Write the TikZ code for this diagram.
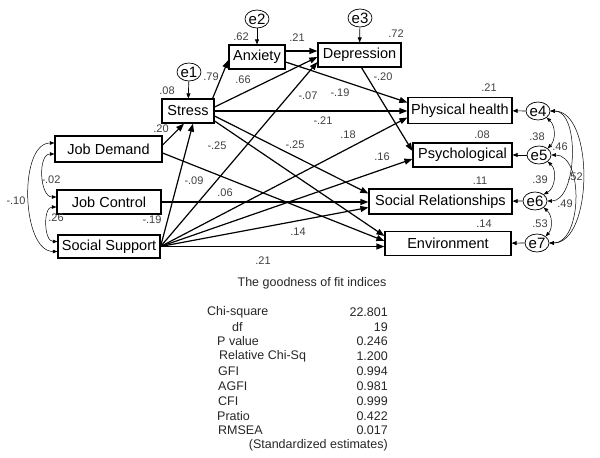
\documentclass[tikz,border=0pt]{standalone}
\usepackage{fontspec}
\setmainfont{Liberation Sans}
\usetikzlibrary{arrows.meta,shapes.geometric}

\begin{document}
\begin{tikzpicture}[x=1pt,y=-1pt,
  obs/.style={rectangle,draw,line width=1.2pt,minimum height=24pt,inner sep=0pt,font=\fontsize{14.5}{16}\selectfont},
  err/.style={ellipse,draw,line width=0.7pt,minimum width=24pt,minimum height=18pt,inner sep=0pt,font=\fontsize{15}{16}\selectfont},
  coef/.style={inner sep=0pt,text=black!75,font=\fontsize{11}{12}\selectfont},
  idx/.style={inner sep=0pt,text=black!85,font=\fontsize{12.5}{14}\selectfont},
  reg/.style={->,>={Triangle[length=8pt,width=6pt]},line width=1.2pt},
  res/.style={->,>={Triangle[length=5pt,width=4pt]},line width=0.7pt},
  cov/.style={<->,>={Triangle[length=4.5pt,width=3.5pt]},line width=0.5pt}]
\useasboundingbox (0,0) rectangle (600,458);

% observed variables
\node (anx) [obs,minimum width=56pt] at (257,57) {Anxiety};
\node (dep) [obs,minimum width=83pt] at (359.5,55) {Depression};
\node (stress) [obs,minimum width=52pt] at (188,111) {Stress};
\node (phys) [obs,minimum width=104pt,minimum height=26pt] at (460,110.5) {Physical health};
\node (psych) [obs,minimum width=99pt] at (462.5,155) {Psychological};
\node (soc) [obs,minimum width=143pt,minimum height=25pt] at (440.5,201.5) {Social Relationships};
\node (env) [obs,minimum width=126pt] at (448,243.5) {Environment};
\node (jd) [obs,minimum width=107pt,minimum height=26pt] at (108.5,149) {Job Demand};
\node (jc) [obs,minimum width=104pt] at (109,202) {Job Control};
\node (ss) [obs,minimum width=102pt,minimum height=23pt] at (109,246.5) {Social Support};

% error terms
\node (e1) [err] at (189,72) {e1};
\node (e2) [err] at (257,19) {e2};
\node (e3) [err] at (360,18) {e3};
\node (e4) [err] at (538,111) {e4};
\node (e5) [err] at (539,155) {e5};
\node (e6) [err] at (535,201) {e6};
\node (e7) [err] at (537,243) {e7};

% regression paths
\draw [reg] ([yshift=4pt]jd.east) -- ([xshift=-4pt]stress.south);
\draw [reg] (ss.east) -- ([xshift=5pt]stress.south);
\draw [reg] ([yshift=-4pt]jd.east) -- ([yshift=2.5pt]env.west);
\draw [reg] (jc.east) -- (jc.east -| soc.west);
\draw [reg] (ss.east) -- ([yshift=-7pt]dep.west);
\draw [reg] (ss.east) -- ([yshift=-7pt]phys.west);
\draw [reg] (ss.east) -- ([yshift=-4pt]psych.west);
\draw [reg] (ss.east) -- ([yshift=-6pt]soc.west);
\draw [reg] (ss.east) -- (ss.east -| env.west);
\draw [reg] ([xshift=-2pt]stress.north east) -- ([yshift=-3pt]anx.west);
\draw [reg] ([yshift=4pt]stress.east) -- ([yshift=-2pt]dep.west);
\draw [reg] (stress.east) -- (stress.east -| phys.west);
\draw [reg] ([yshift=-5pt]stress.east) -- ([yshift=8pt]soc.west);
\draw [reg] ([yshift=-10pt]stress.east) -- ([yshift=7.5pt]env.west);
\draw [reg] ([yshift=6pt]anx.east) -- ([yshift=6pt]anx.east -| dep.west);
\draw [reg] ([yshift=-5pt]anx.east) -- ([yshift=8pt]phys.west);
\draw [reg] ([xshift=2pt]dep.south) -- ([yshift=4pt]psych.west);

% residuals
\draw [res] (e1) -- (stress);
\draw [res] (e2) -- (anx);
\draw [res] (e3) -- (dep);
\draw [res] (e4) -- (phys);
\draw [res] (e5) -- (psych);
\draw [res] (e6) -- (soc);
\draw [res] (e7) -- (env);

% covariances
\draw [cov] ([yshift=-5pt]jd.west) to[out=180,in=180] ([yshift=5pt]jc.west);
\draw [cov] ([yshift=-5pt]jc.west) to[out=180,in=180] ([yshift=5pt]ss.west);
\draw [cov] ([yshift=6pt]jd.west) to[out=180,in=180,looseness=0.85] ([yshift=-5pt]ss.west);
\draw [cov] (e4.south east) to[bend left=45] (e5.north east);
\draw [cov] (e5.south east) to[bend left=55] (e6.north east);
\draw [cov] (e6.south east) to[bend left=45] (e7.north east);
\draw [cov] (e4.east) to[out=0,in=0,looseness=0.85] (e6.east);
\draw [cov] (e5.east) to[out=0,in=0,looseness=0.95] (e7.east);
\draw [cov] (e4.east) to[out=0,in=0,looseness=0.85] (e7.east);

% estimates
\node (k-jd-st) [coef] at (161,129) {.20};
\node (k-ss-st) [coef] at (152,220) {-.19};
\node (k-jd-en) [coef] at (194,181) {-.09};
\node (k-jc-so) [coef] at (225,193) {.06};
\node (k-st-so) [coef] at (217,146) {-.25};
\node (k-st-en) [coef] at (295,145) {-.25};
\node (k-ss-so) [coef] at (298,232) {.14};
\node (k-ss-en) [coef] at (263,261) {.21};
\node (k-st-an) [coef] at (211,77) {.79};
\node (k-st-de) [coef] at (243,80) {.66};
\node (k-an-de) [coef] at (297,38) {.21};
\node (k-ss-de) [coef] at (308,96) {-.07};
\node (k-an-ph) [coef] at (340,93) {-.19};
\node (k-st-ph) [coef] at (323,121) {-.21};
\node (k-ss-ph) [coef] at (348,135) {.18};
\node (k-ss-ps) [coef] at (382,157) {.16};
\node (k-de-ps) [coef] at (383,77) {-.20};
\node (r-stress) [coef] at (167,91) {.08};
\node (r-anx) [coef] at (241,37) {.62};
\node (r-dep) [coef] at (396,34) {.72};
\node (r-phys) [coef] at (489,88) {.21};
\node (r-psych) [coef] at (482,135) {.08};
\node (r-soc) [coef] at (480,181) {.11};
\node (r-env) [coef] at (484,224) {.14};
\node (v-jd-ss) [coef] at (16,201) {-.10};
\node (v-jd-jc) [coef] at (51,180) {-.02};
\node (v-jc-ss) [coef] at (56,218) {.26};
\node (v-45) [coef] at (537,137) {.38};
\node (v-46) [coef] at (560,147) {.46};
\node (v-56) [coef] at (540,180) {.39};
\node (v-47) [coef] at (575,177) {.52};
\node (v-57) [coef] at (565,204) {.49};
\node (v-67) [coef] at (540,224) {.53};

% fit indices
\node (title) [idx] at (312,283) {The goodness of fit indices};
\node (chi) [idx,anchor=west] at (207,312) {Chi-square};
\node (chiv) [idx,anchor=east] at (388,312) {22.801};
\node (df) [idx,anchor=west] at (232,327) {df};
\node (dfv) [idx,anchor=east] at (388,327) {19};
\node (pv) [idx,anchor=west] at (217,341) {P value};
\node (pvv) [idx,anchor=east] at (388,341) {0.246};
\node (rel) [idx,anchor=west] at (219,356) {Relative Chi-Sq};
\node (relv) [idx,anchor=east] at (388,356) {1.200};
\node (gfi) [idx,anchor=west] at (218,371) {GFI};
\node (gfiv) [idx,anchor=east] at (388,371) {0.994};
\node (agfi) [idx,anchor=west] at (218,386) {AGFI};
\node (agfiv) [idx,anchor=east] at (388,386) {0.981};
\node (cfi) [idx,anchor=west] at (218,401) {CFI};
\node (cfiv) [idx,anchor=east] at (388,401) {0.999};
\node (pr) [idx,anchor=west] at (217,416) {Pratio};
\node (prv) [idx,anchor=east] at (388,416) {0.422};
\node (rmsea) [idx,anchor=west] at (218,430) {RMSEA};
\node (rmseav) [idx,anchor=east] at (388,430) {0.017};
\node (note) [idx,anchor=east] at (388,445) {(Standardized estimates)};
\end{tikzpicture}
\end{document}
